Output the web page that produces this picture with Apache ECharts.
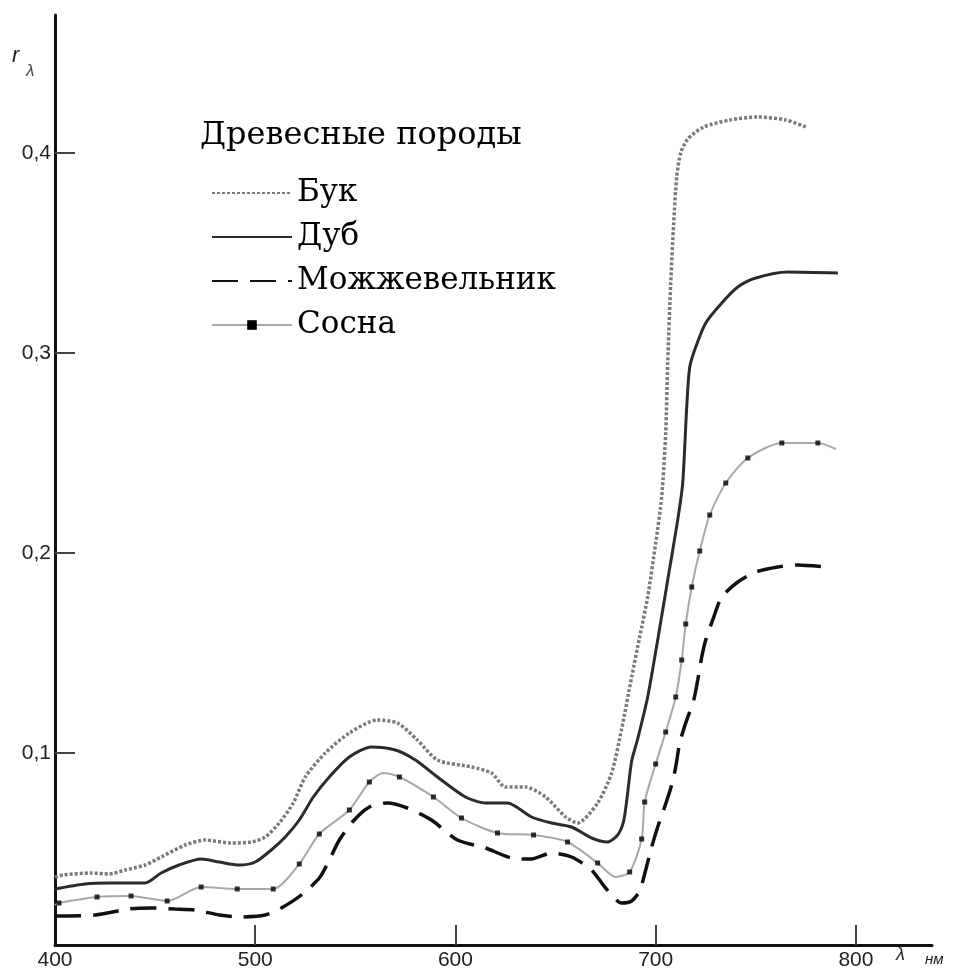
<!DOCTYPE html>
<html>
<head>
<meta charset="utf-8">
<script src="https://cdn.jsdelivr.net/npm/echarts@6/dist/echarts.min.js"></script>
<style>
html,body{margin:0;padding:0;background:#fff;}
#chart{width:956px;height:972px;}
</style>
</head>
<body>
<div id="chart"></div>
<script>
// ---- data (wavelength nm, reflectance) ----
const legendTitle = 'Древесные породы';
const seriesNames = ['Бук', 'Дуб', 'Можжевельник', 'Сосна'];
const xTickLabels = [400, 500, 600, 700, 800];
const yTickLabels = [0.1, 0.2, 0.3, 0.4];

const buk = [[400,0.038],[404,0.039],[418,0.040],[427,0.0395],[435,0.0415],[445,0.044],[453,0.048],[465,0.054],[475,0.0565],[488,0.055],[498,0.0555],[505,0.058],[512,0.065],[519,0.075],[525,0.088],[535,0.100],[547,0.110],[561,0.1165],[571,0.115],[581,0.1065],[591,0.0965],[608,0.093],[618,0.090],[625,0.083],[635,0.083],[645,0.078],[655,0.068],[661,0.065],[671,0.075],[678,0.090],[683,0.112],[688,0.138],[692,0.158],[696,0.178],[700,0.205],[703,0.228],[705,0.26],[706,0.295],[707.5,0.335],[709,0.365],[710.5,0.388],[712.5,0.400],[716,0.407],[724,0.413],[737,0.4165],[751,0.418],[765,0.4165],[775,0.413]];

const dub = [[400,0.032],[415,0.0345],[427,0.035],[445,0.035],[453,0.040],[462,0.044],[473,0.047],[482,0.0455],[492,0.044],[500,0.0455],[508,0.0515],[515,0.058],[522,0.0665],[529,0.078],[537,0.088],[547,0.098],[558,0.103],[570,0.1015],[580,0.0965],[591,0.088],[605,0.078],[615,0.075],[626,0.075],[638,0.068],[648,0.065],[658,0.063],[668,0.0575],[676,0.0555],[681,0.059],[684,0.066],[686,0.08],[688,0.096],[691,0.107],[696,0.128],[701,0.1565],[706,0.1865],[711,0.2165],[713.5,0.235],[715.5,0.273],[717,0.293],[720,0.303],[725,0.315],[733,0.325],[741,0.333],[750,0.3375],[766,0.3405],[791,0.340]];

const mozh = [[400,0.0185],[420,0.019],[437,0.022],[448,0.0225],[460,0.022],[470,0.0215],[482,0.019],[492,0.018],[505,0.019],[513,0.0225],[523,0.029],[532,0.0375],[537,0.0465],[542,0.0565],[549,0.066],[557,0.073],[566,0.075],[576,0.0725],[588,0.0665],[601,0.0565],[615,0.0525],[628,0.0475],[638,0.047],[648,0.050],[658,0.048],[668,0.0415],[675,0.0325],[683,0.025],[688,0.026],[692,0.031],[695,0.0415],[698,0.053],[701,0.063],[704,0.0715],[708,0.084],[710,0.093],[712,0.105],[715,0.115],[719,0.1265],[721,0.1365],[723,0.148],[725,0.1565],[729,0.168],[733,0.178],[741,0.1855],[750,0.1905],[761,0.193],[771,0.194],[785,0.193]];

const sosna = [[400,0.024],[402,0.025],[421,0.028],[438,0.0285],[456,0.026],[473,0.033],[491,0.032],[509,0.032],[522,0.0445],[532,0.0595],[547,0.0715],[557,0.0855],[564,0.090],[572,0.088],[589,0.078],[603,0.0675],[621,0.060],[639,0.059],[656,0.0555],[671,0.045],[680,0.038],[687,0.0405],[693,0.057],[694.5,0.0755],[700,0.0945],[705,0.1105],[710,0.128],[713,0.1465],[715,0.1645],[718,0.183],[722,0.201],[727,0.219],[735,0.235],[746,0.2475],[763,0.255],[781,0.255],[790,0.252]];
// wavelengths of Сосна points that carry a square marker
const sosnaMarkerX = [402,421,438,456,473,491,509,522,532,547,557,572,589,603,621,639,656,671,687,693,694.5,700,705,710,713,715,718,722,727,735,746,763,781];

const sosnaMarkers = sosna.filter(p => sosnaMarkerX.includes(p[0]));

const chart = echarts.init(document.getElementById('chart'), null, {renderer: 'canvas'});
const serif = '"DejaVu Serif", "Liberation Serif", serif';
const sans = '"Liberation Sans", Arial, sans-serif';

chart.setOption({
  animation: false,
  backgroundColor: '#ffffff',
  title: {
    text: legendTitle,
    left: 195,
    top: 115,
    textStyle: {fontFamily: serif, fontSize: 32, fontWeight: 'normal', color: '#000'}
  },
  legend: {
    data: [
      {name: seriesNames[0], itemStyle: {opacity: 0}},
      {name: seriesNames[1], itemStyle: {opacity: 0}},
      {name: seriesNames[2], itemStyle: {opacity: 0}},
      {name: seriesNames[3]}
    ],
    orient: 'vertical',
    left: 206,
    top: 170,
    itemWidth: 80,
    itemHeight: 12,
    itemGap: 8,
    textStyle: {fontFamily: serif, fontSize: 31, color: '#000', lineHeight: 36}
  },
  grid: {left: 55, right: 24, top: 15, bottom: 27},
  xAxis: {
    type: 'value',
    min: 400,
    max: 838,
    axisLine: {lineStyle: {color: '#111', width: 3}},
    axisTick: {show: true, inside: true, length: 20, customValues: [500,600,700,800], lineStyle: {color: '#444', width: 2}},
    axisLabel: {customValues: xTickLabels, fontFamily: sans, fontSize: 21, color: '#222', margin: 5},
    splitLine: {show: false}
  },
  yAxis: {
    type: 'value',
    min: 0.004,
    max: 0.469,
    axisLine: {show: true, lineStyle: {color: '#111', width: 3}},
    axisTick: {show: true, inside: true, length: 20, customValues: yTickLabels, lineStyle: {color: '#444', width: 2}},
    axisLabel: {customValues: yTickLabels, fontFamily: sans, fontSize: 21, color: '#222', margin: 4,
      formatter: v => v.toFixed(1).replace('.', ',')},
    splitLine: {show: false}
  },
  graphic: [
    {type: 'text', left: 12, top: 45, style: {text: 'r', font: 'italic 22px "Liberation Sans", Arial', fill: '#222'}},
    {type: 'text', left: 26, top: 63, style: {text: 'λ', font: 'italic 17px "Liberation Sans", Arial', fill: '#444'}},
    {type: 'text', left: 896, top: 946, style: {text: 'λ', font: 'italic 18px "Liberation Sans", Arial', fill: '#222'}},
    {type: 'text', left: 925, top: 952, style: {text: 'нм', font: 'italic 15px "Liberation Sans", Arial', fill: '#222'}}
  ],
  series: [
    {name: seriesNames[0], type: 'line', data: buk, smooth: 0.25, symbol: 'none',
      lineStyle: {color: '#7a7a7a', width: 3.5, type: [3, 2]}, itemStyle: {color: '#7a7a7a'}},
    {name: seriesNames[1], type: 'line', data: dub, smooth: 0.25, symbol: 'none',
      lineStyle: {color: '#2b2b2b', width: 3}, itemStyle: {color: '#2b2b2b'}},
    {name: seriesNames[2], type: 'line', data: mozh, smooth: 0.25, symbol: 'none',
      lineStyle: {color: '#111', width: 3.5, type: [26, 12]}, itemStyle: {color: '#111'}},
    {name: seriesNames[3], type: 'line', data: sosna, smooth: 0.25, symbol: 'rect', symbolSize: 5, showSymbol: false,
      lineStyle: {color: '#a8a8a8', width: 2}, itemStyle: {color: '#000'}},
    {name: seriesNames[3], type: 'scatter', data: sosnaMarkers, symbol: 'rect', symbolSize: 5,
      itemStyle: {color: '#000'}, z: 5}
  ]
});
</script>
</body>
</html>
